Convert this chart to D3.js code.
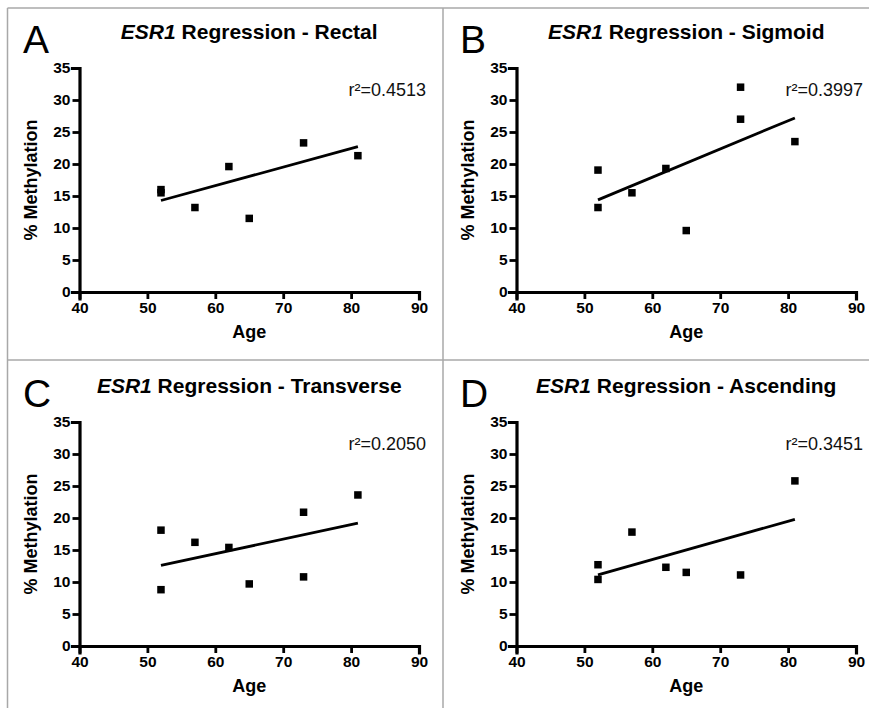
<!DOCTYPE html>
<html>
<head>
<meta charset="utf-8">
<script src="https://cdn.jsdelivr.net/npm/d3@7"></script>
<style>
  html, body { margin: 0; padding: 0; background: #fff; }
  svg { display: block; font-family: "Liberation Sans", Arial, Helvetica, sans-serif; }
</style>
</head>
<body>
<svg id="chart" width="869" height="708"></svg>
<script>
// ---- data ----
const xTicks = [40, 50, 60, 70, 80, 90];
const yTicks = [0, 5, 10, 15, 20, 25, 30, 35];
const panelLetters = ["A", "B", "C", "D"];
const regions = ["Rectal", "Sigmoid", "Transverse", "Ascending"];
const rSquared = ["0.4513", "0.3997", "0.2050", "0.3451"];

const rectalAge = [52, 52, 57, 62, 65, 73, 81];
const rectalMeth = [16.0, 15.5, 13.2, 19.6, 11.5, 23.3, 21.3];
const sigmoidAge = [52, 52, 57, 62, 65, 73, 73, 81];
const sigmoidMeth = [19.05, 13.2, 15.5, 19.3, 9.6, 32.0, 27.0, 23.5];
const transverseAge = [52, 52, 57, 62, 65, 73, 73, 81];
const transverseMeth = [18.1, 8.8, 16.2, 15.4, 9.7, 20.9, 10.8, 23.6];
const ascendingAge = [52, 52, 57, 62, 65, 73, 81];
const ascendingMeth = [12.7, 10.4, 17.8, 12.3, 11.5, 11.1, 25.8];

const fitAgeRange = [52, 81];
const fitStart = [14.3, 14.4, 12.6, 11.1];
const fitEnd = [22.7, 27.2, 19.2, 19.8];

const ages = [rectalAge, sigmoidAge, transverseAge, ascendingAge];
const meths = [rectalMeth, sigmoidMeth, transverseMeth, ascendingMeth];

// ---- layout ----
const FONT = '"Liberation Sans", Arial, Helvetica, sans-serif';
const svg = d3.select("#chart");
const colOff = [0, 437];
const rowOff = [0, 354];
const plotL = 79.5, plotW = 339.5, plotT = 68, plotH = 224;

// panel borders
const border = svg.append("g").attr("stroke", "#a8a8a8").attr("stroke-width", 1.5).attr("fill", "none");
border.append("line").attr("x1", 7.5).attr("x2", 7.5).attr("y1", 8).attr("y2", 708);
border.append("line").attr("x1", 7.5).attr("x2", 869).attr("y1", 8).attr("y2", 8);
border.append("line").attr("x1", 443).attr("x2", 443).attr("y1", 8).attr("y2", 708);
border.append("line").attr("x1", 7.5).attr("x2", 869).attr("y1", 360).attr("y2", 360);

const x = d3.scaleLinear().domain([40, 90]).range([0, plotW]);
const y = d3.scaleLinear().domain([0, 35]).range([plotH, 0]);

regions.forEach((region, i) => {
  const ox = colOff[i % 2], oy = rowOff[Math.floor(i / 2)];
  const g = svg.append("g").attr("transform", `translate(${ox},${oy})`);

  // panel letter
  g.append("text").attr("x", 23).attr("y", 53).attr("font-family", FONT)
    .attr("font-size", 39).attr("fill", "#000").text(panelLetters[i]);

  // title
  const t = g.append("text").attr("x", plotL + plotW / 2).attr("y", 39).attr("font-family", FONT)
    .attr("text-anchor", "middle").attr("font-size", 21).attr("font-weight", "bold").attr("fill", "#000");
  t.append("tspan").attr("font-style", "italic").text("ESR1");
  t.append("tspan").text(" Regression - " + region);

  const p = g.append("g").attr("transform", `translate(${plotL},${plotT})`);

  // axes
  const xAxis = d3.axisBottom(x).tickValues(xTicks).tickSizeOuter(0).tickSize(7).tickPadding(3);
  const yAxis = d3.axisLeft(y).tickValues(yTicks).tickSizeOuter(0).tickSize(7).tickPadding(2);
  const xg = p.append("g").attr("transform", `translate(0,${plotH})`).call(xAxis);
  const yg = p.append("g").call(yAxis);
  [xg, yg].forEach(a => {
    a.select(".domain").attr("stroke", "#000").attr("stroke-width", 3.2).attr("stroke-linecap", "square");
    a.selectAll(".tick line").attr("stroke", "#000").attr("stroke-width", 2.8);
    a.selectAll(".tick text").attr("fill", "#000").attr("font-size", 15.5).attr("font-weight", "bold")
      .attr("font-family", FONT);
  });

  // axis titles
  p.append("text").attr("x", plotW / 2).attr("y", plotH + 46).attr("font-family", FONT)
    .attr("text-anchor", "middle").attr("font-size", 18).attr("font-weight", "bold").attr("fill", "#000").text("Age");
  p.append("text").attr("transform", `translate(${37 - plotL},${plotH / 2}) rotate(-90)`).attr("font-family", FONT)
    .attr("text-anchor", "middle").attr("font-size", 18).attr("font-weight", "bold").attr("fill", "#000").text("% Methylation");

  // r squared
  p.append("text").attr("x", 269).attr("y", 28).attr("font-family", FONT)
    .attr("font-size", 18).attr("fill", "#111").text("r\u00B2=" + rSquared[i]);

  // fit line
  p.append("line")
    .attr("x1", x(fitAgeRange[0])).attr("y1", y(fitStart[i]))
    .attr("x2", x(fitAgeRange[1])).attr("y2", y(fitEnd[i]))
    .attr("stroke", "#000").attr("stroke-width", 2.8);

  // points
  const pts = ages[i].map((a, k) => ({ a, m: meths[i][k] }));
  const s = 7.5;
  p.selectAll("rect.pt").data(pts).enter().append("rect").attr("class", "pt")
    .attr("x", d => x(d.a) - s / 2).attr("y", d => y(d.m) - s / 2)
    .attr("width", s).attr("height", s).attr("fill", "#000");
});
</script>
</body>
</html>
